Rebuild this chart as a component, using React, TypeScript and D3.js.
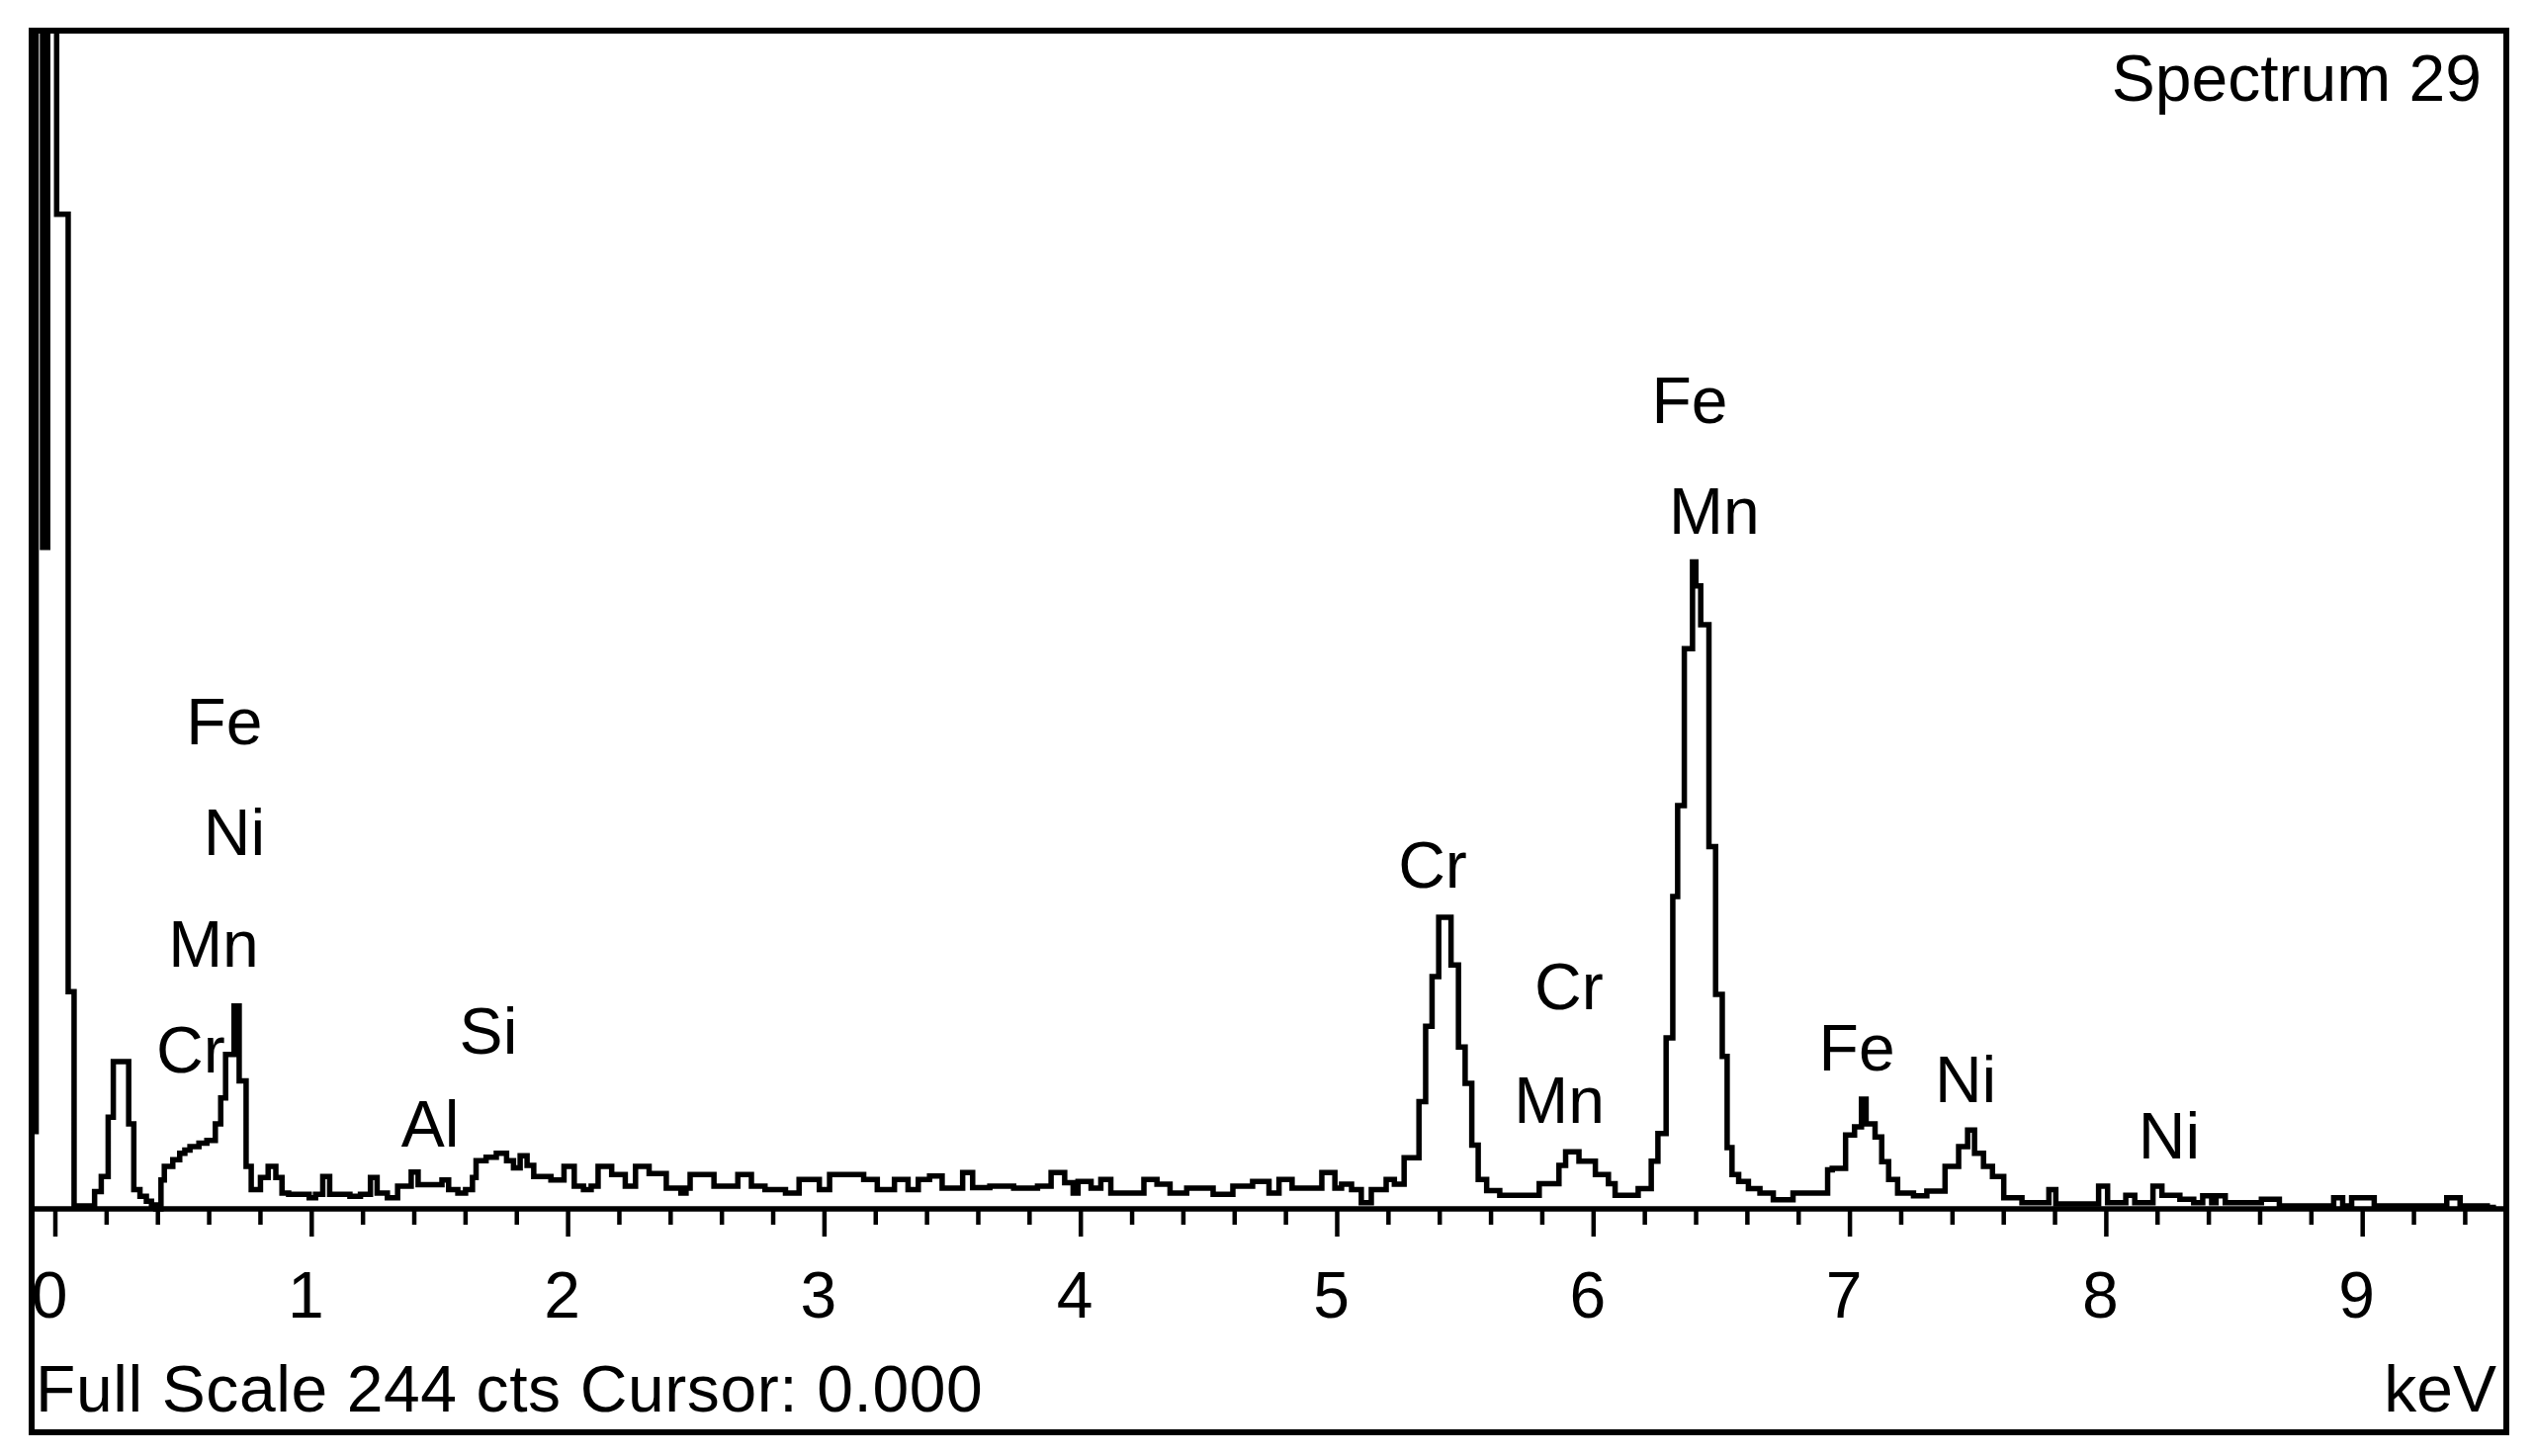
import React from 'react';
import * as d3 from 'd3';

// ---------- data ----------
const energyKeV = [
  -0.10, -0.075, -0.05, -0.03, 0.005, 0.05, 0.073,
  0.153, 0.179, 0.206, 0.226, 0.286, 0.306, 0.33, 0.355, 0.375, 0.392,
  0.412, 0.425, 0.458, 0.485, 0.505, 0.525, 0.56, 0.591, 0.624, 0.645, 0.664, 0.697, 0.717, 0.744, 0.764, 0.80, 0.83, 0.86, 0.884,
  0.91, 0.99, 1.015, 1.043, 1.07, 1.149, 1.19, 1.229, 1.255, 1.295, 1.335, 1.388, 1.415, 1.508, 1.534, 1.57, 1.60, 1.627, 1.641, 1.68, 1.72, 1.76, 1.787, 1.813, 1.84, 1.866, 1.933,
  1.984, 2.024, 2.06, 2.09, 2.117, 2.17, 2.223, 2.263, 2.316, 2.383, 2.44, 2.46, 2.476, 2.569, 2.662, 2.715, 2.768, 2.848, 2.901, 2.98, 3.02, 3.153, 3.206, 3.273, 3.326, 3.366, 3.41, 3.459, 3.539, 3.578, 3.645, 3.738, 3.831, 3.884, 3.937, 3.97,
  3.989, 4.04, 4.078, 4.117, 4.246, 4.297, 4.348, 4.413, 4.516, 4.593, 4.67, 4.734, 4.773, 4.824, 4.94, 4.991, 5.017, 5.056, 5.094, 5.133, 5.191, 5.223, 5.261, 5.319,
  5.345, 5.37, 5.396, 5.444, 5.473, 5.499, 5.525, 5.55, 5.583, 5.634, 5.788, 5.865, 5.891, 5.943, 6.007, 6.058, 6.084, 6.174, 6.225, 6.251, 6.283, 6.309, 6.328, 6.354, 6.386, 6.399, 6.418, 6.45, 6.476, 6.502, 6.521, 6.54, 6.566, 6.604, 6.649, 6.701, 6.778,
  6.913, 6.931, 6.983, 7.018, 7.045, 7.063, 7.098, 7.124, 7.151, 7.186, 7.248, 7.30, 7.371, 7.424, 7.459, 7.486, 7.521, 7.556, 7.60, 7.671, 7.776, 7.803, 7.97, 8.005, 8.076, 8.111, 8.182, 8.217, 8.287, 8.341, 8.376, 8.411, 8.428, 8.464, 8.605, 8.675, 8.887, 8.922, 8.957, 9.045, 9.328, 9.38, 9.486, 9.52,
];

const counts = [
  16, 999, 137, 999, 206, 45, 0.6,
  3.6, 6.7, 19, 30.5, 17.6, 4, 2.6, 1.6, 0.8, 0,
  6, 8.8, 10.2, 11.5, 12.2, 12.9, 13.6, 14.2, 17.6, 23, 32, 42, 26.5, 8.8, 4, 6.5, 8.8, 6.5, 3.3,
  3.0, 2.3, 3.0, 6.7, 3.0, 2.6, 3.0, 6.5, 3.3, 2.3, 4.7, 7.6, 5.0, 6.0, 4.0, 3.3, 4.0, 6.5, 10, 10.7, 11.5, 10, 8.5, 11, 9, 6.7, 6.0,
  8.8, 4.7, 4.0, 4.7, 8.8, 7.1, 4.7, 8.8, 7.3, 4.3, 3.3, 4.3, 7.1, 4.7, 7.1, 4.7, 4.0, 3.3, 6.1, 4.0, 7.1, 6.1, 4.0, 6.1, 4.0, 6.1, 6.8, 4.3, 7.5, 4.4, 4.7, 4.3, 4.7, 7.5, 5.4, 3.3,
  5.7, 4.3, 6.1, 3.3, 6.1, 5.1, 3.3, 4.3, 3.0, 4.7, 5.7, 3.3, 6.1, 4.3, 7.5, 4.3, 5.1, 4.0, 1.3, 4.0, 6.1, 5.1, 10.6, 22.2,
  37.8, 48.1, 60.4, 50.5, 33.5, 26, 13.2, 6.1, 3.8, 2.8, 5.2, 9, 11.8, 9.9, 7.1, 5.2, 2.8, 4.2, 9.9, 15.6, 35.4, 64.7, 83.5, 116, 134, 129, 121, 75, 44.4, 31.6, 12.7, 7.1, 5.7, 4.2, 3.3, 1.9, 3.3,
  8.1, 8.4, 15.3, 17, 22.7, 17.6, 14.9, 9.8, 6.1, 3.3, 2.7, 3.7, 8.8, 12.9, 16.3, 11.5, 8.8, 6.7, 2.3, 1.3, 4, 1.0, 4.7, 1.3, 2.8, 1.3, 4.7, 2.8, 2, 1.3, 2.7, 1.3, 2.7, 1.3, 2.0, 0.6, 2.3, 0.6, 2.3, 0.6, 2.3, 0.6, 0.3, 0.3,
];

const majorTicks = [0, 1, 2, 3, 4, 5, 6, 7, 8, 9];
const tickLabels = ['0', '1', '2', '3', '4', '5', '6', '7', '8', '9'];
const minorTicks = [
  0, 0.2, 0.4, 0.6, 0.8, 1, 1.2, 1.4, 1.6, 1.8, 2, 2.2, 2.4, 2.6, 2.8, 3, 3.2, 3.4, 3.6, 3.8,
  4, 4.2, 4.4, 4.6, 4.8, 5, 5.2, 5.4, 5.6, 5.8, 6, 6.2, 6.4, 6.6, 6.8, 7, 7.2, 7.4, 7.6, 7.8,
  8, 8.2, 8.4, 8.6, 8.8, 9, 9.2, 9.4,
];

const peakNames = ['Fe', 'Ni', 'Mn', 'Cr', 'Al', 'Si', 'Cr', 'Cr', 'Mn', 'Fe', 'Mn', 'Fe', 'Ni', 'Ni'];
const peakEnergies = [0.659, 0.698, 0.617, 0.528, 1.462, 1.689, 5.372, 5.904, 5.866, 6.375, 6.471, 7.027, 7.451, 8.245];
const peakLevels = [96.3, 73.2, 50.1, 28.2, 12.9, 32.1, 66.6, 41.3, 17.8, 162.7, 139.8, 28.6, 22.1, 10.4];

const fullScale = 244;
const titleText = 'Spectrum 29';
const footerText = 'Full Scale 244 cts Cursor: 0.000';
const unitText = 'keV';

// ---------- layout ----------
const W = 2564;
const H = 1473;
const frame = { left: 32, top: 31, right: 2535, bottom: 1449 };
const axisY = 1223;
const FONT = "'Liberation Sans', Arial, 'DejaVu Sans', sans-serif";
const FS = 66;

export default function App() {
  const x = d3.scaleLinear().domain([0, 9]).range([56, 56 + 9 * 259.3]);
  const y = d3.scaleLinear().domain([0, fullScale]).range([axisY, frame.top]);

  const line = d3
    .line<number>()
    .x((_, i) => x(energyKeV[i]))
    .y((d) => y(d))
    .curve(d3.curveStepAfter);
  const path = line(counts) || '';

  return (
    <svg
      width={W}
      height={H}
      viewBox={`0 0 ${W} ${H}`}
      style={{ position: 'absolute', left: 0, top: 0, background: '#fff' }}
    >
      <defs>
        <clipPath id="plotClip">
          <rect x={frame.left} y={frame.top} width={frame.right - frame.left} height={frame.bottom - frame.top} />
        </clipPath>
      </defs>
      <rect x={0} y={0} width={W} height={H} fill="#fff" />

      <g clipPath="url(#plotClip)" fontFamily={FONT} fontSize={FS} fill="#000">
        {/* peak labels */}
        {peakNames.map((n, i) => (
          <text key={'pl' + i} x={x(peakEnergies[i])} y={y(peakLevels[i])} textAnchor="middle">
            {n}
          </text>
        ))}

        {/* spectrum */}
        <path d={path} fill="none" stroke="#000" strokeWidth={5.5} strokeLinejoin="miter" />

        {/* axis line */}
        <line x1={frame.left} x2={frame.right} y1={axisY} y2={axisY} stroke="#000" strokeWidth={5.5} />

        {/* ticks */}
        {minorTicks.map((t, i) => (
          <line
            key={'mt' + i}
            x1={x(t)}
            x2={x(t)}
            y1={axisY}
            y2={majorTicks.includes(t) ? axisY + 28 : axisY + 16}
            stroke="#000"
            strokeWidth={4.5}
          />
        ))}

        {/* tick labels */}
        {majorTicks.map((t, i) => (
          <text key={'tl' + i} x={x(t) - 6} y={1333} textAnchor="middle">
            {tickLabels[i]}
          </text>
        ))}

        <text x={frame.right - 25} y={102} textAnchor="end">
          {titleText}
        </text>
        <text x={frame.left + 4} y={1428} textAnchor="start" letterSpacing={0.6}>
          {footerText}
        </text>
        <text x={frame.right - 10} y={1428} textAnchor="end">
          {unitText}
        </text>
      </g>

      <rect
        x={frame.left}
        y={frame.top}
        width={frame.right - frame.left}
        height={frame.bottom - frame.top}
        fill="none"
        stroke="#000"
        strokeWidth={6}
      />
    </svg>
  );
}
